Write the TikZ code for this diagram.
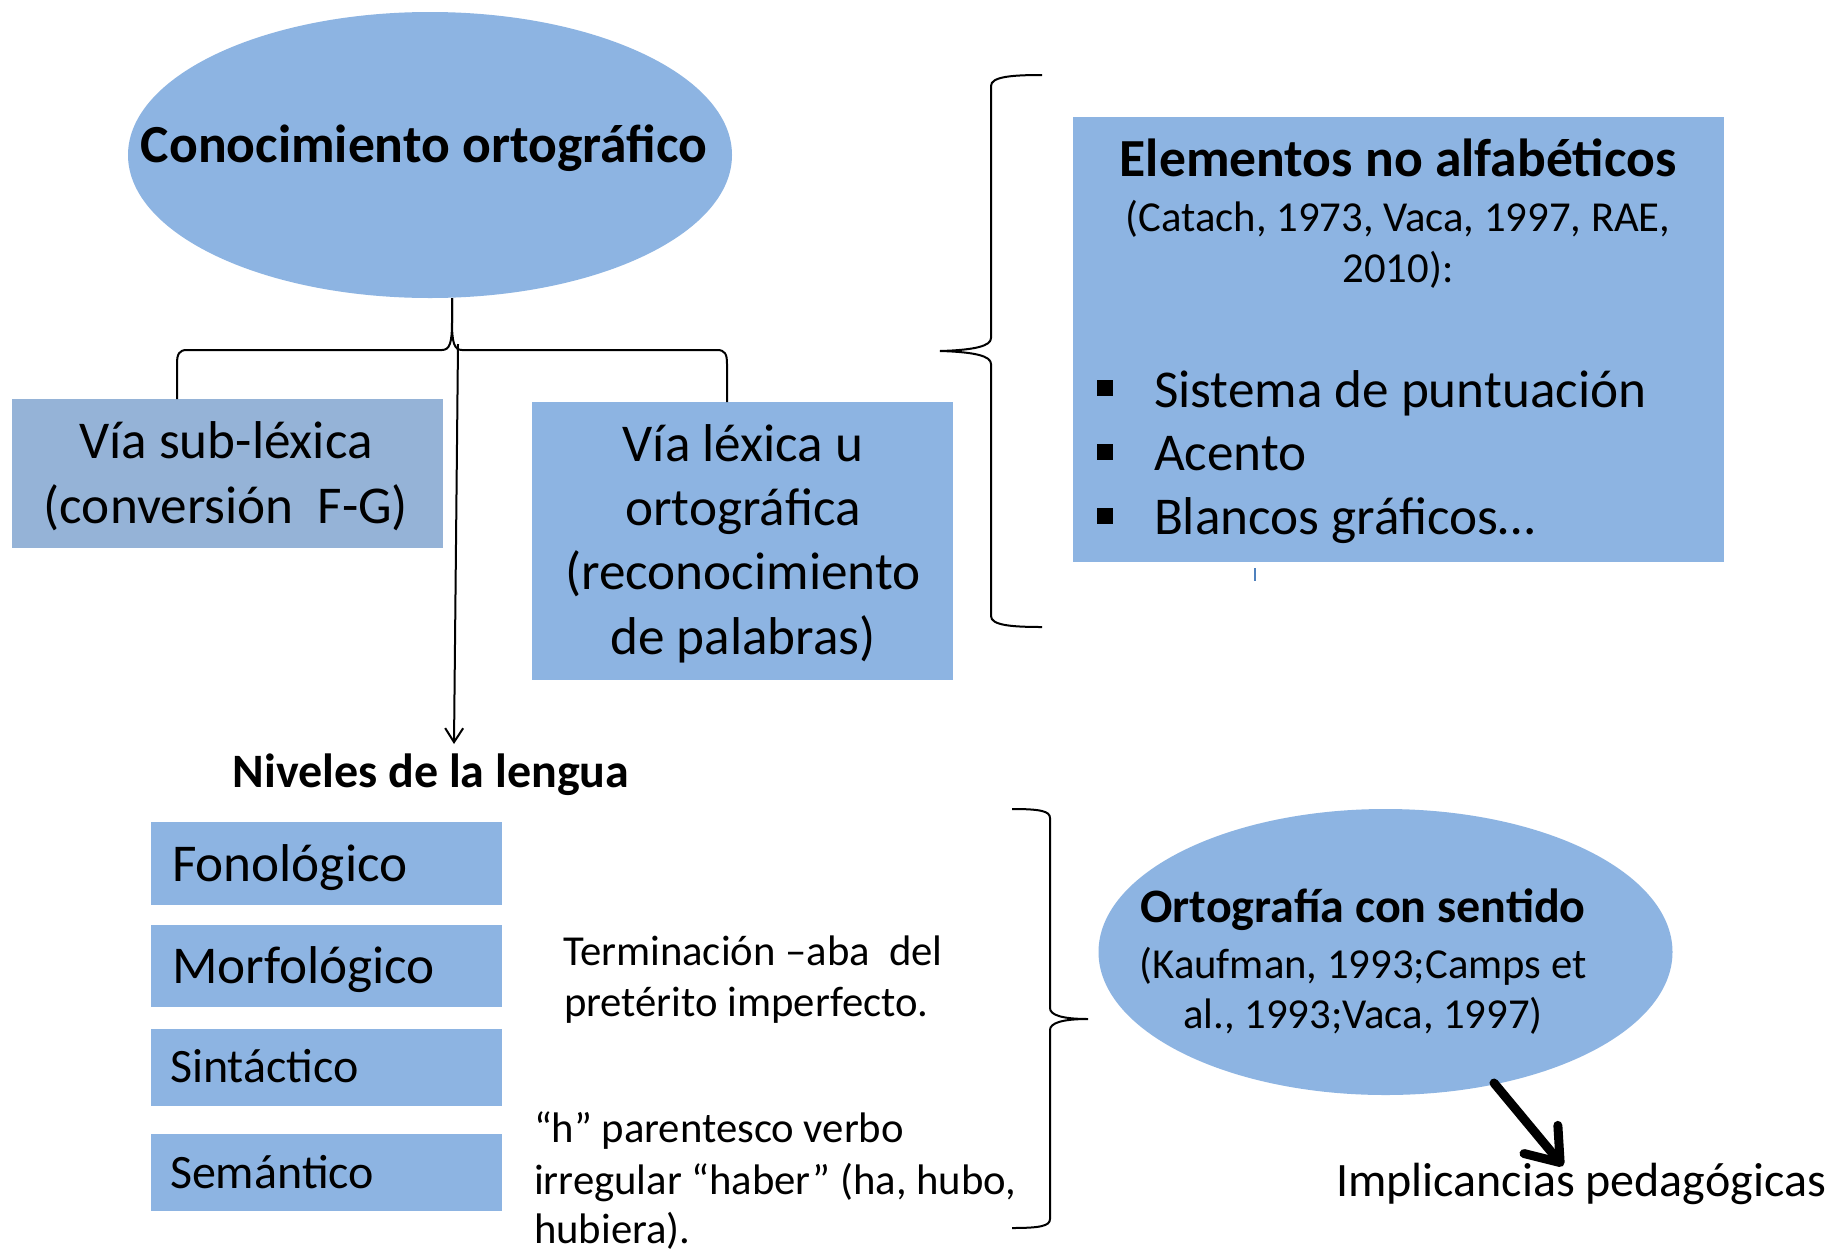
\documentclass[tikz,border=0pt]{standalone}
\usepackage{fontspec}
\setmainfont{Carlito}
\usetikzlibrary{shapes.geometric,arrows.meta}
\definecolor{boxblue}{RGB}{141,180,226}
\definecolor{boxgrey}{RGB}{149,179,215}
\definecolor{tickblue}{RGB}{79,129,189}
\begin{document}
\begin{tikzpicture}[x=1pt,y=-1pt,
  bluefill/.style={fill=boxblue, draw=none, inner sep=0pt, outer sep=0pt},
  txt/.style={inner sep=0pt, outer sep=0pt, anchor=base, text=black},
  txtl/.style={txt, anchor=base west},
  fbig/.style={font=\fontsize{53.2}{64}\selectfont},
  fbigb/.style={font=\fontsize{53.6}{64}\selectfont\bfseries},
  fmed/.style={font=\fontsize{48}{57}\selectfont},
  fmedb/.style={font=\fontsize{48}{57}\selectfont\bfseries},
  fsm/.style={font=\fontsize{42.7}{51}\selectfont},
  fimp/.style={font=\fontsize{48}{58}\selectfont},
  conn/.style={draw=black, line width=2pt},
  bulletsq/.style={fill=black, draw=none, minimum size=16pt, inner sep=0pt}
]
\useasboundingbox (0,0) rectangle (1831,1248);
\fill[white] (0,0) rectangle (1831,1248);

% shapes
\node[bluefill, ellipse, minimum width=604pt, minimum height=286pt] (ko) at (430,155) {};
\node[bluefill, fill=boxgrey, minimum width=431pt, minimum height=149pt] (sub) at (227.5,473.5) {};
\node[bluefill, minimum width=421pt, minimum height=278pt] (lex) at (742.5,541) {};
\node[bluefill, minimum width=651pt, minimum height=445pt] (elem) at (1398.5,339.5) {};
\node[bluefill, minimum width=351pt, minimum height=83pt] (fon) at (326.5,863.5) {};
\node[bluefill, minimum width=351pt, minimum height=82pt] (mor) at (326.5,966) {};
\node[bluefill, minimum width=351pt, minimum height=77pt] (sin) at (326.5,1067.5) {};
\node[bluefill, minimum width=351pt, minimum height=77pt] (sem) at (326.5,1172.5) {};
\node[bluefill, ellipse, minimum width=574pt, minimum height=286pt] (ocs) at (1385.5,952) {};

% texts
\node[txt, fbigb] (koT) at (424,162) {Conocimiento ortográfico};
\node[txt, fbig] (subA) at (226,458) {Vía sub-léxica};
\node[txt, fbig] (subB) at (226,523) {(conversión~ F-G)};
\node[txt, fbig] (lexA) at (743,461) {Vía léxica u};
\node[txt, fbig] (lexB) at (743,525) {ortográfica};
\node[txt, fbig] (lexC) at (743,589) {(reconocimiento};
\node[txt, fbig] (lexD) at (743,654) {de palabras)};
\node[txt, fbigb] (elT) at (1398,176) {Elementos no alfabéticos};
\node[txt, fsm] (elA) at (1398,231) {(Catach, 1973, Vaca, 1997, RAE,};
\node[txt, fsm] (elB) at (1398,282) {2010):};
\node[bulletsq] (b1) at (1105,388) {};
\node[bulletsq] (b2) at (1105,452) {};
\node[bulletsq] (b3) at (1105,516) {};
\node[txtl, fbig] (it1) at (1154,407) {Sistema de puntuación};
\node[txtl, fbig] (it2) at (1154,470) {Acento};
\node[txtl, fbig] (it3) at (1154,534) {Blancos gráficos…};
\node[txt, fmedb] (niv) at (431,787) {Niveles de la lengua};
\node[txtl, fbig] (fonT) at (172,881) {Fonológico};
\node[txtl, fbig] (morT) at (172,983) {Morfológico};
\node[txtl, fmed] (sinT) at (170,1082) {Sintáctico};
\node[txtl, fmed] (semT) at (170,1188) {Semántico};
\node[txtl, fsm] (terA) at (563,965) {Terminación –aba~ del};
\node[txtl, fsm] (terB) at (564,1016) {pretérito imperfecto.};
\node[txtl, fsm] (hA) at (534,1142) {“h” parentesco verbo};
\node[txtl, fsm] (hB) at (534,1194) {irregular “haber” (ha, hubo,};
\node[txtl, fsm] (hC) at (534,1243) {hubiera).};
\node[txt, fmedb] (ocsT) at (1363,922) {Ortografía con sentido};
\node[txt, fsm] (ocsA) at (1363,978) {(Kaufman, 1993;Camps et};
\node[txt, fsm] (ocsB) at (1363,1028) {al., 1993;Vaca, 1997)};
\node[txtl, fimp] (imp) at (1336,1196) {Implicancias pedagógicas};

% small tick
\draw[tickblue, line width=2pt] (1255,568) -- (1255,581);

% connectors
\coordinate (kotip) at (452,298);
\coordinate (arrS) at (458,344);
\coordinate (arrE) at (454,744);
\draw[conn] (kotip) -- (452,322) .. controls (452,342) and (450,350) .. (442,350) -- (187,350) .. controls (179,350) and (177,354) .. (177,364) -- (177,399);
\draw[conn] (kotip) -- (452,322) .. controls (452,342) and (454,350) .. (462,350) -- (717,350) .. controls (725,350) and (727,354) .. (727,364) -- (727,402);
\draw[conn, -{Straight Barb[length=14pt,width=18pt]}] (arrS) -- (arrE);

% braces
\draw[conn] (1042,75) .. controls (1010,75) and (991,77) .. (991,86) -- (991,338) .. controls (991,346) and (975,350) .. (940,351) .. controls (975,352) and (991,356) .. (991,364) -- (991,616) .. controls (991,625) and (1010,627) .. (1042,627);
\draw[conn] (1012,809) .. controls (1040,809) and (1050,811) .. (1050,818) -- (1050,1008) .. controls (1050,1015) and (1062,1019) .. (1088,1019) .. controls (1062,1019) and (1050,1023) .. (1050,1030) -- (1050,1219) .. controls (1050,1226) and (1040,1228) .. (1012,1228);

% thick arrow
\coordinate (tkS) at (1494,1083);
\coordinate (tkE) at (1563,1166);
\draw[line width=9pt, line cap=round, -{Straight Barb[length=30pt,width=44pt,line cap=round,round]}] (tkS) -- (tkE);
\end{tikzpicture}
\end{document}
